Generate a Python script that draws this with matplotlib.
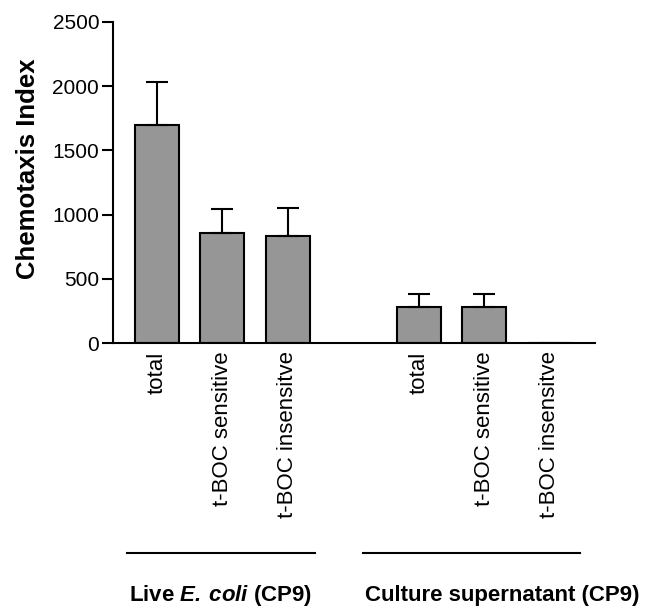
import numpy as np
import matplotlib
matplotlib.use("Agg")
import matplotlib.pyplot as plt

plt.rcParams['font.family'] = ['Liberation Sans', 'DejaVu Sans']
plt.rcParams['mathtext.fontset'] = 'custom'
plt.rcParams['mathtext.bfit'] = 'Liberation Sans:italic:bold'

# Datos
etiquetas = ["total", "t-BOC sensitive", "t-BOC insensitve",
             "total", "t-BOC sensitive", "t-BOC insensitve"]
posiciones = [0, 1, 2, 4, 5, 6]
valores = [1700, 860, 835, 280, 280, 0]
errores = [335, 180, 215, 100, 100, 0]
grupos = ["Live $\\mathbfit{E.\\,coli}$ (CP9)", "Culture supernatant (CP9)"]
grupo_inicio = [-0.46, 3.15]
grupo_fin = [2.41, 6.47]

fig = plt.figure(figsize=(6.5, 6.11), dpi=100)
ax = fig.add_axes([0.174, 0.4386, 0.741, 0.5254])

errs = [e if e > 0 else np.nan for e in errores]
ax.bar(posiciones, valores, width=0.67, color="#969696", edgecolor="black", linewidth=1.5)
ax.errorbar(posiciones, valores, yerr=[np.zeros(len(errs)), errs], fmt="none",
            ecolor="black", elinewidth=1.5, capsize=8, capthick=1.5)

ax.set_xlim(-0.67, 6.69)
ax.set_ylim(0, 2500)
ax.set_yticks([0, 500, 1000, 1500, 2000, 2500])
ax.set_xticks(posiciones)
ax.set_xticklabels(etiquetas, rotation=90, va="top", ha="center")
ax.tick_params(axis="x", length=0, pad=6, labelsize=16)
ax.tick_params(axis="y", length=8, width=1.5, pad=2, labelsize=15)
ax.spines["top"].set_visible(False)
ax.spines["right"].set_visible(False)
ax.spines["left"].set_linewidth(1.5)
ax.spines["bottom"].set_linewidth(1.5)
ax.set_ylabel("Chemotaxis Index", fontsize=18.5, fontweight="bold")
ax.yaxis.set_label_coords(-0.151, 0.542)

# Lineas y nombres de grupo
trans = ax.get_xaxis_transform()
for nombre, x0, x1 in zip(grupos, grupo_inicio, grupo_fin):
    ax.plot([x0, x1], [-0.654, -0.654], color="black", lw=1.5, transform=trans, clip_on=False)
    ax.text(x0 + 0.03, -0.785, nombre, transform=trans, ha="left", va="center",
            fontsize=16, fontweight="bold")

fig.savefig("out.png", dpi=100)
